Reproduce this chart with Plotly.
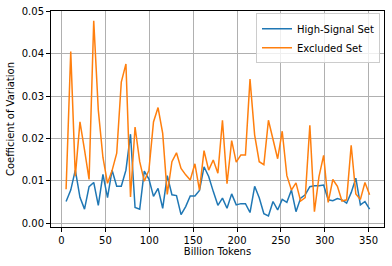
import plotly.graph_objects as go

tokens = [5.2, 10.5, 15.7, 21.0, 26.2, 31.4, 36.7, 41.9, 47.2, 52.4,
          57.6, 62.9, 68.1, 73.4, 78.6, 83.8, 89.1, 94.3, 99.6, 104.8,
          110.0, 115.3, 120.5, 125.8, 131.0, 136.2, 141.5, 146.7, 152.0, 157.2,
          162.4, 167.7, 172.9, 178.2, 183.4, 188.6, 193.9, 199.1, 204.4, 209.6,
          214.8, 220.1, 225.3, 230.6, 235.8, 241.0, 246.3, 251.5, 256.8, 262.0,
          267.2, 272.5, 277.7, 283.0, 288.2, 293.4, 298.7, 303.9, 309.2, 314.4,
          319.6, 324.9, 330.1, 335.4, 340.6, 345.8, 351.1]

high_signal = [0.0051, 0.0078, 0.0125, 0.0061, 0.0033, 0.0086, 0.0096, 0.0042, 0.0115, 0.0060,
               0.0125, 0.0087, 0.0087, 0.0125, 0.0210, 0.0037, 0.0033, 0.0123, 0.0104, 0.0063,
               0.0082, 0.0035, 0.0112, 0.0067, 0.0065, 0.0020, 0.0039, 0.0064, 0.0064, 0.0077,
               0.0133, 0.0110, 0.0075, 0.0042, 0.0059, 0.0035, 0.0069, 0.0043, 0.0046, 0.0046,
               0.0025, 0.0087, 0.0060, 0.0022, 0.0017, 0.0051, 0.0031, 0.0056, 0.0049, 0.0078,
               0.0027, 0.0059, 0.0067, 0.0086, 0.0088, 0.0088, 0.0090, 0.0055, 0.0053, 0.0058,
               0.0055, 0.0047, 0.0072, 0.0106, 0.0043, 0.0051, 0.0033]

excluded = [0.0080, 0.0405, 0.0111, 0.0239, 0.0173, 0.0103, 0.0478, 0.0267, 0.0155, 0.0094,
            0.0124, 0.0165, 0.0333, 0.0376, 0.0062, 0.0227, 0.0145, 0.0099, 0.0125, 0.0239,
            0.0273, 0.0212, 0.0068, 0.0145, 0.0166, 0.0129, 0.0114, 0.0102, 0.0140, 0.0078,
            0.0171, 0.0125, 0.0149, 0.0118, 0.0243, 0.0093, 0.0195, 0.0144, 0.0161, 0.0161,
            0.0340, 0.0208, 0.0145, 0.0138, 0.0243, 0.0195, 0.0152, 0.0217, 0.0112, 0.0078,
            0.0095, 0.0052, 0.0060, 0.0231, 0.0027, 0.0110, 0.0160, 0.0049, 0.0103, 0.0087,
            0.0052, 0.0055, 0.0184, 0.0069, 0.0056, 0.0096, 0.0067]

x_ticks = [0, 50, 100, 150, 200, 250, 300, 350]
y_ticks = [0.00, 0.01, 0.02, 0.03, 0.04, 0.05]

font = "DejaVu Sans"
fig = go.Figure()
fig.add_trace(go.Scatter(x=tokens, y=high_signal, mode="lines", name="High-Signal Set",
                         line=dict(color="#1f77b4", width=1.5)))
fig.add_trace(go.Scatter(x=tokens, y=excluded, mode="lines", name="Excluded Set",
                         line=dict(color="#ff7f0e", width=1.5)))

axis_common = dict(showline=True, mirror=True, linecolor="black", linewidth=1,
                   ticks="outside", ticklen=4, tickcolor="black", tickwidth=1,
                   showgrid=True, gridcolor="#b0b0b0", gridwidth=0.8, zeroline=False,
                   automargin=False,
                   tickfont=dict(family=font, size=10, color="black"))

fig.update_layout(
    width=392, height=266, autosize=False,
    margin=dict(l=51, r=8, t=11, b=39),
    plot_bgcolor="white", paper_bgcolor="white",
    font=dict(family=font, size=10, color="black"),
    xaxis=dict(range=[-12, 367.5], tickvals=x_ticks,
               title=dict(text="Billion Tokens", font=dict(family=font, size=10), standoff=2),
               **axis_common),
    yaxis=dict(range=[-0.00092, 0.0501], tickvals=y_ticks, tickformat=".2f",
               title=dict(text="Coefficient of Variation", font=dict(family=font, size=10), standoff=5),
               **axis_common),
    legend=dict(x=0.988, y=0.99, xanchor="right", yanchor="top",
                bgcolor="rgba(255,255,255,0.8)", bordercolor="#cccccc", borderwidth=1,
                font=dict(family=font, size=10), tracegroupgap=0, itemwidth=30),
    showlegend=True,
)

fig.write_html("out.html", config={"displayModeBar": False},
               post_script="document.body.style.margin='0';")
